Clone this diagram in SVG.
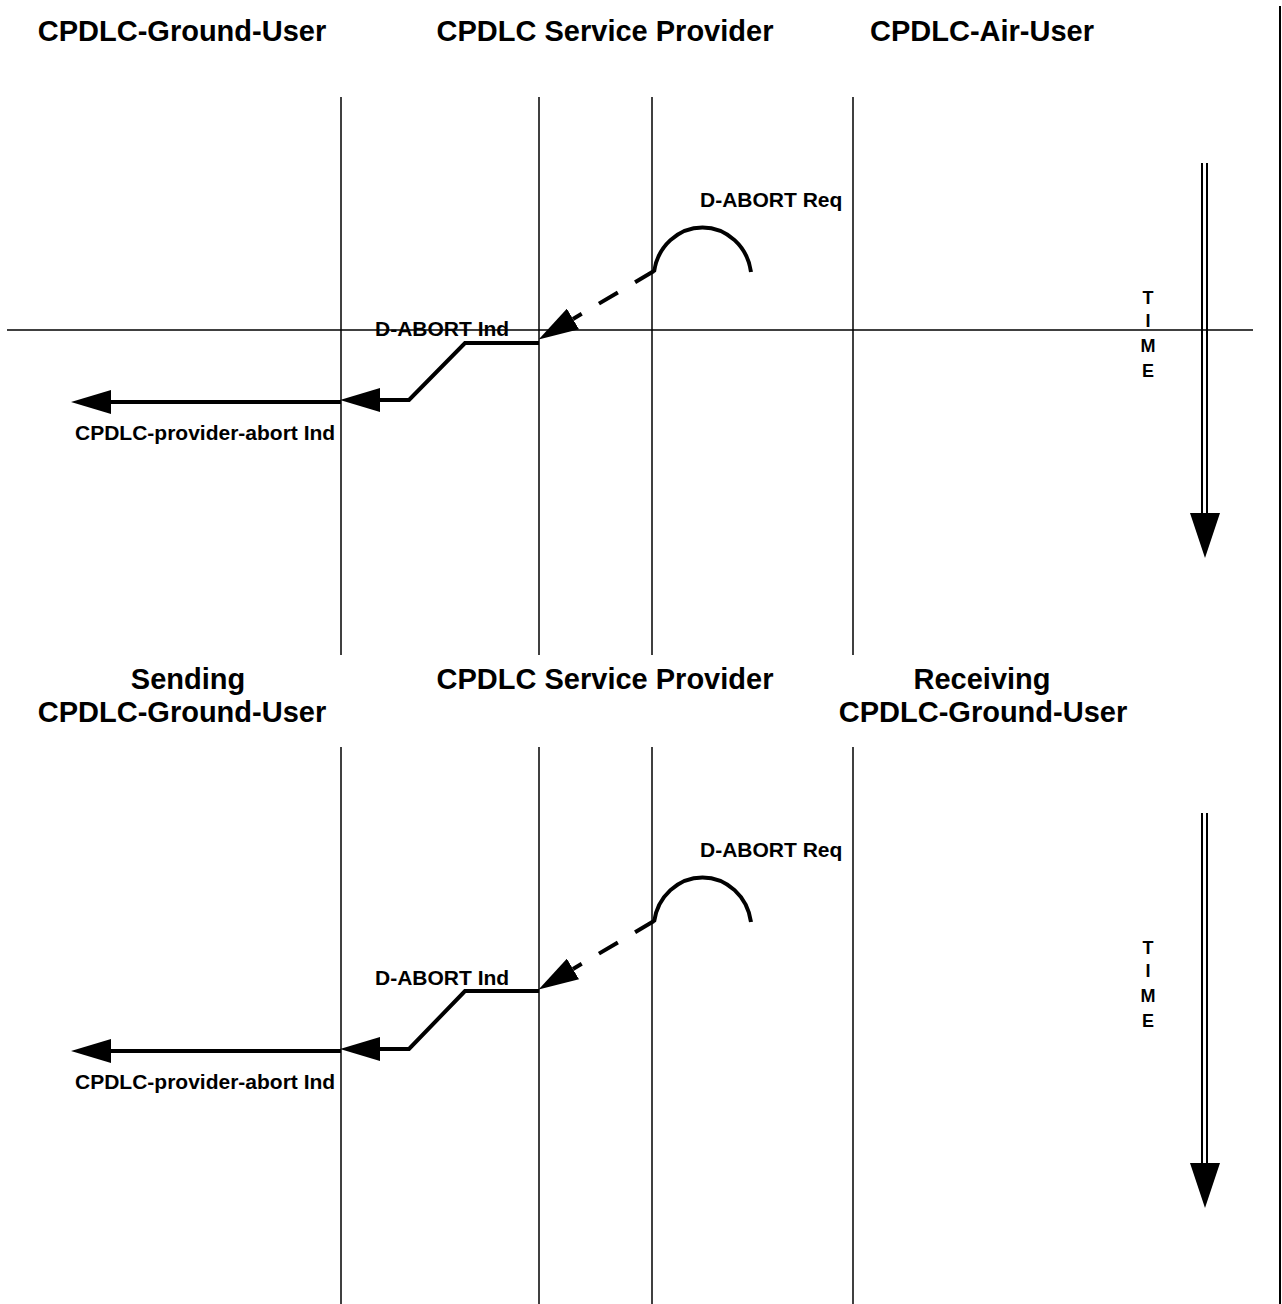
<svg xmlns="http://www.w3.org/2000/svg" width="1282" height="1304" viewBox="0 0 1282 1304">
  <style>
    text { font-family: "Liberation Sans", Arial, sans-serif; font-weight: bold; fill: #000; }
    .head { font-size: 29px; text-anchor: middle; }
    .lbl { font-size: 21px; }
    .time { font-size: 18px; text-anchor: middle; }
    .life { stroke: #000; stroke-width: 1.5; fill: none; }
    .thin { stroke: #000; stroke-width: 1.5; fill: none; }
    .rail { stroke: #000; stroke-width: 2; fill: none; }
    .msg { stroke: #000; stroke-width: 4; fill: none; }
    .dash { stroke: #000; stroke-width: 4; fill: none; stroke-dasharray: 22 20; }
  </style>
  <defs>
    <marker id="head" viewBox="0 0 40 24" markerUnits="userSpaceOnUse" markerWidth="40" markerHeight="24" refX="0" refY="12" orient="auto">
      <path d="M0,0 L40,12 L0,24 z" fill="#000"/>
    </marker>
  </defs>
  <rect width="1282" height="1304" fill="#fff"/>

  <!-- right page border -->
  <line x1="1280" y1="6" x2="1280" y2="1304" stroke="#000" stroke-width="2"/>

  <!-- ===== upper sequence: ground / air ===== -->
  <g id="top-ground-user">
    <text class="head" x="182" y="41">CPDLC-Ground-User</text>
    <line class="life" x1="341" y1="97" x2="341" y2="655"/>
  </g>
  <g id="top-service-provider">
    <text class="head" x="605" y="41">CPDLC Service Provider</text>
    <line class="life" x1="539" y1="97" x2="539" y2="655"/>
    <line class="life" x1="652" y1="97" x2="652" y2="655"/>
  </g>
  <g id="top-air-user">
    <text class="head" x="982" y="41">CPDLC-Air-User</text>
    <line class="life" x1="853" y1="97" x2="853" y2="655"/>
  </g>
  <g id="top-time">
    <line class="rail" x1="1202" y1="163" x2="1202" y2="515"/>
    <line class="rail" x1="1207" y1="163" x2="1207" y2="515"/>
    <polygon points="1190,513 1220,513 1205,558" fill="#000"/>
    <text class="time" x="1148" y="304">T</text>
    <text class="time" x="1148" y="327">I</text>
    <text class="time" x="1148" y="352">M</text>
    <text class="time" x="1148" y="377">E</text>
  </g>
  <line class="thin" x1="7" y1="330" x2="1253" y2="330"/>
  <g id="top-connectors">
    <path class="msg" d="M654,272 A49,52 0 0 1 751,272"/>
    <text class="lbl" x="700" y="207">D-ABORT Req</text>
    <line class="dash" x1="654" y1="271" x2="573" y2="319" marker-end="url(#head)"/>
    <polyline class="msg" points="539,343 465,343 409,400 380,400" marker-end="url(#head)"/>
    <text class="lbl" x="375" y="336">D-ABORT Ind</text>
    <line class="msg" x1="341" y1="402" x2="111" y2="402" marker-end="url(#head)"/>
    <text class="lbl" x="75" y="440">CPDLC-provider-abort Ind</text>
  </g>

  <!-- ===== lower sequence: ground / ground ===== -->
  <g id="bottom-sending-user">
    <text class="head" x="188" y="689">Sending</text>
    <text class="head" x="182" y="722">CPDLC-Ground-User</text>
    <line class="life" x1="341" y1="747" x2="341" y2="1304"/>
  </g>
  <g id="bottom-service-provider">
    <text class="head" x="605" y="689">CPDLC Service Provider</text>
    <line class="life" x1="539" y1="747" x2="539" y2="1304"/>
    <line class="life" x1="652" y1="747" x2="652" y2="1304"/>
  </g>
  <g id="bottom-receiving-user">
    <text class="head" x="982" y="689">Receiving</text>
    <text class="head" x="983" y="722">CPDLC-Ground-User</text>
    <line class="life" x1="853" y1="747" x2="853" y2="1304"/>
  </g>
  <g id="bottom-time">
    <line class="rail" x1="1202" y1="813" x2="1202" y2="1165"/>
    <line class="rail" x1="1207" y1="813" x2="1207" y2="1165"/>
    <polygon points="1190,1163 1220,1163 1205,1208" fill="#000"/>
    <text class="time" x="1148" y="954">T</text>
    <text class="time" x="1148" y="977">I</text>
    <text class="time" x="1148" y="1002">M</text>
    <text class="time" x="1148" y="1027">E</text>
  </g>
  <g id="bottom-connectors">
    <path class="msg" d="M654,922 A49,52 0 0 1 751,922"/>
    <text class="lbl" x="700" y="857">D-ABORT Req</text>
    <line class="dash" x1="654" y1="921" x2="573" y2="969" marker-end="url(#head)"/>
    <polyline class="msg" points="539,991 465,991 409,1049 380,1049" marker-end="url(#head)"/>
    <text class="lbl" x="375" y="985">D-ABORT Ind</text>
    <line class="msg" x1="341" y1="1051" x2="111" y2="1051" marker-end="url(#head)"/>
    <text class="lbl" x="75" y="1089">CPDLC-provider-abort Ind</text>
  </g>
</svg>
